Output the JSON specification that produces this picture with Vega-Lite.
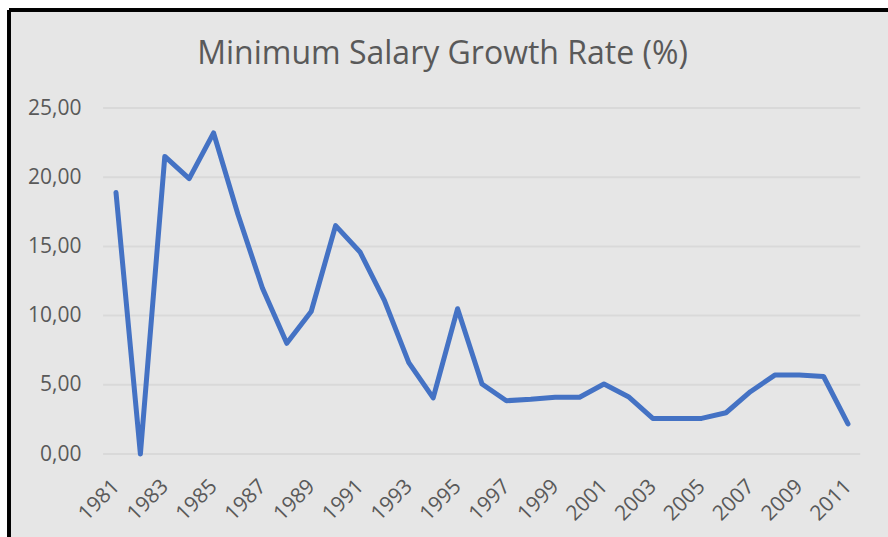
{
  "$schema": "https://vega.github.io/schema/vega-lite/v6.json",
  "width": 879,
  "height": 527,
  "autosize": {"type": "none"},
  "padding": {"left": 9, "top": 10, "right": 0, "bottom": 0},
  "background": "white",
  "config": {
    "view": {"fill": "#e6e6e6", "stroke": null},
    "font": "Open Sans"
  },
  "title": {
    "text": "Minimum Salary Growth Rate (%)",
    "font": "Open Sans",
    "fontSize": 32,
    "fontWeight": "normal",
    "color": "#595959",
    "anchor": "middle",
    "baseline": "alphabetic",
    "offset": -87,
    "dx": -6
  },
  "datasets": {
    "series": [
      {"year": 1981, "rate": 18.9},
      {"year": 1982, "rate": 0.0},
      {"year": 1983, "rate": 21.5},
      {"year": 1984, "rate": 19.9},
      {"year": 1985, "rate": 23.2},
      {"year": 1986, "rate": 17.3},
      {"year": 1987, "rate": 12.0},
      {"year": 1988, "rate": 8.0},
      {"year": 1989, "rate": 10.3},
      {"year": 1990, "rate": 16.5},
      {"year": 1991, "rate": 14.6},
      {"year": 1992, "rate": 11.1},
      {"year": 1993, "rate": 6.6},
      {"year": 1994, "rate": 4.05},
      {"year": 1995, "rate": 10.5},
      {"year": 1996, "rate": 5.06},
      {"year": 1997, "rate": 3.85},
      {"year": 1998, "rate": 3.95},
      {"year": 1999, "rate": 4.1},
      {"year": 2000, "rate": 4.1},
      {"year": 2001, "rate": 5.06},
      {"year": 2002, "rate": 4.14},
      {"year": 2003, "rate": 2.57},
      {"year": 2004, "rate": 2.57},
      {"year": 2005, "rate": 2.57},
      {"year": 2006, "rate": 2.98},
      {"year": 2007, "rate": 4.5},
      {"year": 2008, "rate": 5.7},
      {"year": 2009, "rate": 5.7},
      {"year": 2010, "rate": 5.6},
      {"year": 2011, "rate": 2.17}
    ],
    "grid": [
      {"g": 0}, {"g": 5}, {"g": 10}, {"g": 15}, {"g": 20}, {"g": 25}
    ]
  },
  "layer": [
    {
      "data": {"name": "grid"},
      "mark": {"type": "rule", "color": "#d9d9d9", "strokeWidth": 2},
      "encoding": {
        "y": {"field": "g", "type": "quantitative", "scale": {"domain": [-5.997, 32.081], "nice": false, "zero": false},
          "axis": {
            "values": [0, 5, 10, 15, 20, 25],
            "labelExpr": "replace(format(datum.value, '.2f'), '.', ',')",
            "offset": -72,
            "domain": false, "ticks": false, "tickSize": 0, "grid": false,
            "labelPadding": 0,
            "labelFont": "Open Sans", "labelFontSize": 21, "labelColor": "#595959",
            "title": null
          }},
        "x": {"datum": 1980.47, "type": "quantitative", "scale": {"domain": [1976.615, 2012.64], "nice": false, "zero": false},
          "axis": {
            "values": [1981, 1983, 1985, 1987, 1989, 1991, 1993, 1995, 1997, 1999, 2001, 2003, 2005, 2007, 2009, 2011],
            "format": "d",
            "labelAngle": -45,
            "labelAlign": "right",
            "labelBaseline": "middle",
            "offset": -83,
            "domain": false, "ticks": false, "tickSize": 0, "grid": false,
            "labelPadding": 29,
            "labelFont": "Open Sans", "labelFontSize": 21, "labelColor": "#595959",
            "labelOverlap": false,
            "title": null
          }},
        "x2": {"datum": 2011.5}
      }
    },
    {
      "data": {"name": "series"},
      "mark": {"type": "line", "color": "#4472C4", "strokeWidth": 5, "strokeJoin": "round", "strokeCap": "round"},
      "encoding": {
        "x": {"field": "year", "type": "quantitative", "scale": {"domain": [1976.615, 2012.64], "nice": false, "zero": false}},
        "y": {"field": "rate", "type": "quantitative", "scale": {"domain": [-5.997, 32.081], "nice": false, "zero": false}}
      }
    },
    {
      "data": {"name": "grid"},
      "mark": {"type": "rule", "color": "#000000", "strokeWidth": 3},
      "encoding": {
        "x": {"datum": 1976.615, "type": "quantitative"},
        "y": {"datum": -5.997, "type": "quantitative"},
        "y2": {"datum": 32.081}
      }
    },
    {
      "data": {"name": "grid"},
      "mark": {"type": "rule", "color": "#000000", "strokeWidth": 3},
      "encoding": {
        "y": {"datum": 32.081, "type": "quantitative"},
        "x": {"datum": 1976.615, "type": "quantitative"},
        "x2": {"datum": 2012.64}
      }
    }
  ]
}
